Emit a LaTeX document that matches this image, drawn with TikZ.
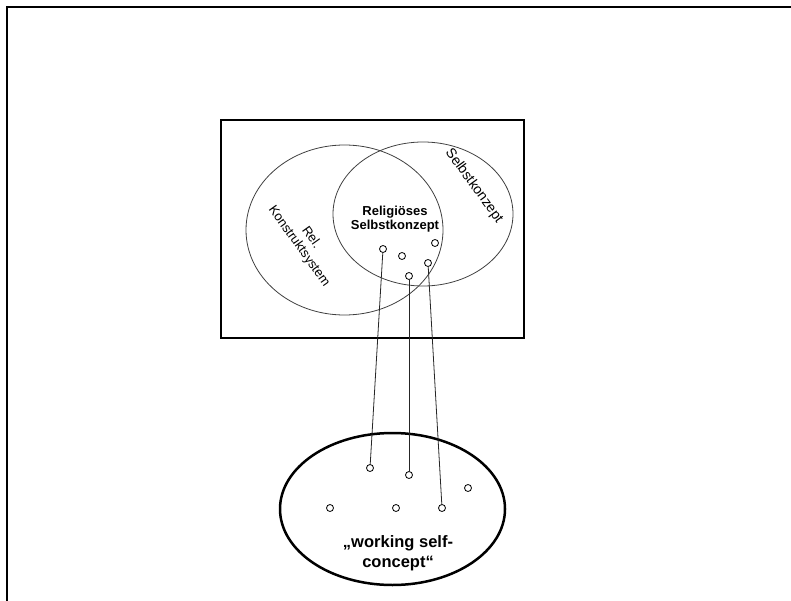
\documentclass[tikz,border=0pt]{standalone}
\usepackage{fontspec}
\setmainfont{Liberation Sans}
\begin{document}
\begin{tikzpicture}[x=1pt,y=-1pt,
  dot/.style={circle,draw,fill=white,inner sep=0pt,minimum size=7pt,line width=0.8pt},
  thinline/.style={line width=0.8pt,black!85},
  setline/.style={line width=0.8pt,black!75},
  lbl/.style={inner sep=0pt,align=center}]
\useasboundingbox (0,0) rectangle (791,601);

% outer frame (top and left edges)
\draw[line width=2pt] (6.5,601) -- (6.5,7.5) -- (791,7.5);

% box holding the two overlapping sets
\draw[line width=1.8pt] (221,120) rectangle (524,338);
\draw[setline] (344.5,230) ellipse [x radius=98.5pt, y radius=85pt];
\draw[setline] (423,214) ellipse [x radius=90pt, y radius=72pt];

% set labels
\node[lbl,rotate=-54.5,font=\fontsize{13}{15}\selectfont] (relks) at (305,242) {Rel.\\Konstruktsystem};
\node[lbl,rotate=-54,font=\fontsize{14}{16}\selectfont] (sk) at (474,186) {Selbstkonzept};
\node[lbl,font=\bfseries\fontsize{13}{14}\selectfont] (rsk) at (395,219) {Religiöses\\Selbstkonzept};

% elements of the religious self-concept
\node[dot] (r1) at (383,249) {};
\node[dot] (r2) at (402,256) {};
\node[dot] (r3) at (435,243) {};
\node[dot] (r4) at (428,263) {};
\node[dot] (r5) at (409,276) {};

% working self-concept
\draw[line width=2.5pt] (392.5,509) ellipse [x radius=112.5pt, y radius=76pt];
\node[dot] (w1) at (370,468) {};
\node[dot] (w2) at (409,475) {};
\node[dot] (w3) at (468,488) {};
\node[dot] (w4) at (330,508) {};
\node[dot] (w5) at (396,508) {};
\node[dot] (w6) at (442,508) {};
\node[lbl,font=\bfseries\fontsize{16.5}{20}\selectfont] (wsc) at (398,553) {„working self-\\concept“};

% activated elements
\draw[thinline] (r1) -- (w1);
\draw[thinline] (r5) -- (w2);
\draw[thinline] (r4) -- (w6);
\end{tikzpicture}
\end{document}
